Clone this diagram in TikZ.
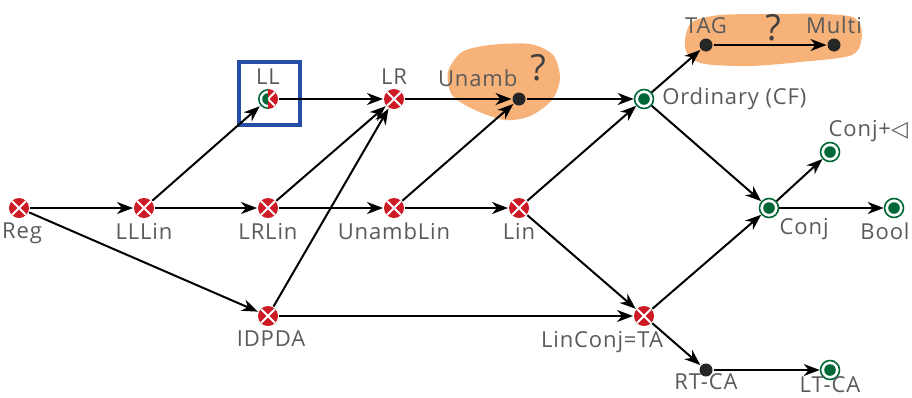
\documentclass[tikz,border=0pt]{standalone}
\usepackage{fontspec}
\setmainfont{Open Sans}[LetterSpace=4]
\newfontfamily\symfont{DejaVu Sans}
\usetikzlibrary{arrows.meta}
\definecolor{crossred}{RGB}{204,27,36}
\definecolor{acceptgreen}{RGB}{0,104,55}
\definecolor{blobfill}{RGB}{246,178,121}
\definecolor{boxblue}{RGB}{38,78,166}
\definecolor{labelgray}{RGB}{90,90,90}

\begin{document}
\begin{tikzpicture}[x=1pt,y=-1pt,line width=2pt,label distance=2pt, every label/.style={text=labelgray,font=\fontsize{22}{25}\selectfont,inner sep=1pt}] % pixel grid

\tikzstyle{crossed}=[circle,fill=crossred,inner sep=0,minimum size=20pt,path picture={\draw[white,line width=1.8pt] (path picture bounding box.north west) -- (path picture bounding box.south east) (path picture bounding box.north east) -- (path picture bounding box.south west);}];
\tikzstyle{accepting}=[circle,draw=acceptgreen,fill=white,line width=1.6pt,inner sep=0,minimum size=19pt,path picture={\fill[acceptgreen] (path picture bounding box.center) circle (5.8pt);}];
\tikzstyle{plain}=[circle,fill=black!85,inner sep=0,minimum size=13pt];
\tikzstyle{mixed}=[circle,inner sep=0,minimum size=20pt,path picture={
  \fill[crossred] (path picture bounding box.north) arc[start angle=90,end angle=-90,radius=10pt] -- cycle;
  \draw[white,line width=1.8pt] (path picture bounding box.north east) -- (path picture bounding box.center) -- (path picture bounding box.south east);
  \draw[acceptgreen,line width=1.6pt] (path picture bounding box.north) ++(0,-0.8pt) arc[start angle=90,end angle=270,radius=9.2pt];
  \fill[acceptgreen] (path picture bounding box.center) ++(0,5.8pt) arc[start angle=90,end angle=270,radius=5.8pt] -- cycle;}];
\tikzstyle{trans}=[-{Stealth[length=16pt,width=12pt,inset=5pt]},line width=2pt];
\tikzstyle{query}=[text=black!75,font=\fontsize{36}{38}\selectfont,inner sep=0];

\useasboundingbox (0,0) rectangle (912,397);

% orange blobs
\fill[blobfill] plot[smooth cycle] coordinates {(448,72) (462,52) (490,45) (530,44) (553,55) (560,78) (552,100) (530,116) (505,120) (475,110) (452,95)};
\fill[blobfill] plot[smooth cycle] coordinates {(685,40) (692,22) (720,15) (770,14) (825,14) (855,18) (862,35) (852,55) (800,62) (750,66) (705,64) (688,55)};

\node[crossed,label={[xshift=3pt]below:Reg}] (reg) at (19,208) {};
\node[crossed,label=below:LLLin] (lllin) at (144,208) {};
\node[crossed,label=below:LRLin] (lrlin) at (268,208) {};
\node[crossed,label=below:UnambLin] (unamblin) at (394,208) {};
\node[crossed,label=below:Lin] (lin) at (519,208) {};
\node[mixed,label=above:LL] (ll) at (268,99) {};
\node[crossed,label=above:LR] (lr) at (394,99) {};
\node[plain,label={[xshift=7pt,yshift=4pt]above left:Unamb}] (unamb) at (519,99) {};
\node[query] (qunamb) at (538,68) {?};
\node[accepting,label={[label distance=6pt]right:Ordinary (CF)}] (cf) at (644,99) {};
\node[plain,label=above:TAG] (tag) at (706,45) {};
\node[plain,label=above:Multi] (multi) at (834,45) {};
\node[query] (qtag) at (773,28) {?};
\node[accepting,label=below right:Conj] (conj) at (769,208) {};
\node[accepting,label={[xshift=-12pt]above right:Conj+{\symfont ◁}}] (conjp) at (830,152) {};
\node[accepting,label={[xshift=-9pt]below:Bool}] (bool) at (894,208) {};
\node[crossed,label={[xshift=3pt]below:IDPDA}] (idpda) at (268,316) {};
\node[crossed,label={[xshift=-42pt]below:LinConj=TA}] (linconj) at (644,316) {};
\node[plain,label={[label distance=-6pt]below:RT-CA}] (rtca) at (706,370) {};
\node[accepting,label={[label distance=-6pt]below:LT-CA}] (ltca) at (830,370) {};

\draw[boxblue,line width=3.8pt] (239,62) rectangle (300,125);

\draw[trans] (reg) edge (lllin) (lllin) edge (lrlin) (lrlin) edge (unamblin) (unamblin) edge (lin);
\draw[trans] (reg) edge (idpda) (lllin) edge (ll) (ll) edge (lr) (lrlin) edge (lr) (idpda) edge (lr);
\draw[trans] (lr) edge (unamb) (unamblin) edge (unamb) (unamb) edge (cf) (lin) edge (cf) (lin) edge (linconj);
\draw[trans] (cf) edge (tag) (tag) edge (multi) (cf) edge (conj) (conj) edge (conjp) (conj) edge (bool);
\draw[trans] (idpda) edge (linconj) (linconj) edge (conj) (linconj) edge (rtca) (rtca) edge (ltca);
\end{tikzpicture}
\end{document}
